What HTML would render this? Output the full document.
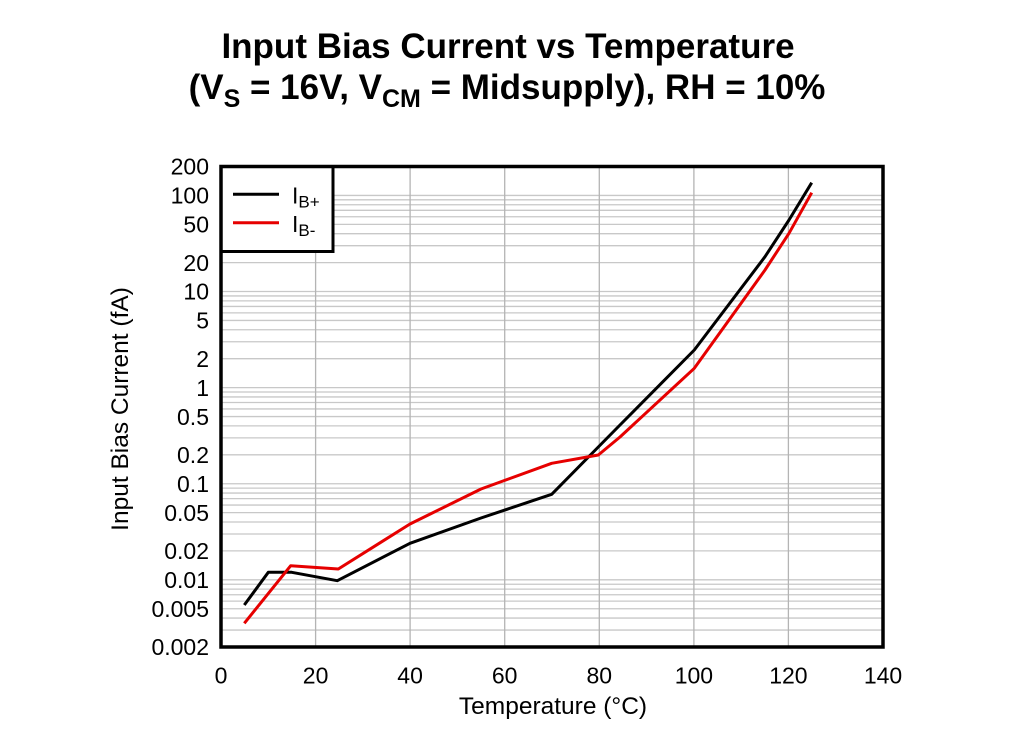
<!DOCTYPE html>
<html>
<head>
<meta charset="utf-8">
<style>
  html, body { margin:0; padding:0; background:#fff; }
  body { width:1027px; height:746px; overflow:hidden; }
  svg { display:block; }
  text { font-family: "Liberation Sans", Arial, sans-serif; fill:#000; }
</style>
</head>
<body>
<svg width="1027" height="746" viewBox="0 0 1027 746" xmlns="http://www.w3.org/2000/svg">
  <rect x="0" y="0" width="1027" height="746" fill="#fff"/>

  <text x="508" y="58" font-size="35" font-weight="bold" text-anchor="middle">Input Bias Current vs Temperature</text>
  <text x="507" y="99" font-size="35" font-weight="bold" text-anchor="middle">(V<tspan font-size="25" dy="8">S</tspan><tspan dy="-8"> = 16V, V</tspan><tspan font-size="25" dy="8">CM</tspan><tspan dy="-8"> = Midsupply), RH = 10%</tspan></text>

  <g stroke="#c8c8c8" stroke-width="1.3">
    <line x1="221" x2="883" y1="630.08" y2="630.08"/>
    <line x1="221" x2="883" y1="618.07" y2="618.07"/>
    <line x1="221" x2="883" y1="608.76" y2="608.76"/>
    <line x1="221" x2="883" y1="601.15" y2="601.15"/>
    <line x1="221" x2="883" y1="594.72" y2="594.72"/>
    <line x1="221" x2="883" y1="589.14" y2="589.14"/>
    <line x1="221" x2="883" y1="584.23" y2="584.23"/>
    <line x1="221" x2="883" y1="579.83" y2="579.83"/>
    <line x1="221" x2="883" y1="550.90" y2="550.90"/>
    <line x1="221" x2="883" y1="533.98" y2="533.98"/>
    <line x1="221" x2="883" y1="521.97" y2="521.97"/>
    <line x1="221" x2="883" y1="512.66" y2="512.66"/>
    <line x1="221" x2="883" y1="505.05" y2="505.05"/>
    <line x1="221" x2="883" y1="498.62" y2="498.62"/>
    <line x1="221" x2="883" y1="493.04" y2="493.04"/>
    <line x1="221" x2="883" y1="488.13" y2="488.13"/>
    <line x1="221" x2="883" y1="483.73" y2="483.73"/>
    <line x1="221" x2="883" y1="454.80" y2="454.80"/>
    <line x1="221" x2="883" y1="437.88" y2="437.88"/>
    <line x1="221" x2="883" y1="425.87" y2="425.87"/>
    <line x1="221" x2="883" y1="416.56" y2="416.56"/>
    <line x1="221" x2="883" y1="408.95" y2="408.95"/>
    <line x1="221" x2="883" y1="402.52" y2="402.52"/>
    <line x1="221" x2="883" y1="396.94" y2="396.94"/>
    <line x1="221" x2="883" y1="392.03" y2="392.03"/>
    <line x1="221" x2="883" y1="387.63" y2="387.63"/>
    <line x1="221" x2="883" y1="358.70" y2="358.70"/>
    <line x1="221" x2="883" y1="341.78" y2="341.78"/>
    <line x1="221" x2="883" y1="329.77" y2="329.77"/>
    <line x1="221" x2="883" y1="320.46" y2="320.46"/>
    <line x1="221" x2="883" y1="312.85" y2="312.85"/>
    <line x1="221" x2="883" y1="306.42" y2="306.42"/>
    <line x1="221" x2="883" y1="300.84" y2="300.84"/>
    <line x1="221" x2="883" y1="295.93" y2="295.93"/>
    <line x1="221" x2="883" y1="291.53" y2="291.53"/>
    <line x1="221" x2="883" y1="262.60" y2="262.60"/>
    <line x1="221" x2="883" y1="245.68" y2="245.68"/>
    <line x1="221" x2="883" y1="233.67" y2="233.67"/>
    <line x1="221" x2="883" y1="224.36" y2="224.36"/>
    <line x1="221" x2="883" y1="216.75" y2="216.75"/>
    <line x1="221" x2="883" y1="210.32" y2="210.32"/>
    <line x1="221" x2="883" y1="204.74" y2="204.74"/>
    <line x1="221" x2="883" y1="199.83" y2="199.83"/>
    <line x1="221" x2="883" y1="195.43" y2="195.43"/>
  </g>
  <g stroke="#b4b4b4" stroke-width="1.3">
    <line x1="315.6" x2="315.6" y1="166.5" y2="647"/>
    <line x1="410.1" x2="410.1" y1="166.5" y2="647"/>
    <line x1="504.7" x2="504.7" y1="166.5" y2="647"/>
    <line x1="599.3" x2="599.3" y1="166.5" y2="647"/>
    <line x1="693.9" x2="693.9" y1="166.5" y2="647"/>
    <line x1="788.4" x2="788.4" y1="166.5" y2="647"/>
  </g>

  <polyline fill="none" stroke="#000" stroke-width="3" stroke-linejoin="round"
    points="244.3,605 268.3,572.3 291.7,572.3 337.3,580.7 410,543.3 481,518 551.7,494.3 598.3,447 620,425 694.3,350 765,256.7 789,220 811.7,182.7"/>
  <polyline fill="none" stroke="#e60000" stroke-width="3" stroke-linejoin="round"
    points="244.3,623.3 290.7,565.7 338.3,569 410,524 481,489 551.7,463.3 598.3,455 620,437 694.3,368.3 765,270 789,233.3 811.7,192.7"/>

  <rect x="221" y="166.5" width="112" height="85" fill="#fff" stroke="#000" stroke-width="3"/>
  <line x1="233" x2="279" y1="194.3" y2="194.3" stroke="#000" stroke-width="3"/>
  <line x1="233" x2="279" y1="222.7" y2="222.7" stroke="#e60000" stroke-width="3"/>
  <text x="292" y="203.5" font-size="23">I<tspan font-size="17" dy="4">B+</tspan></text>
  <text x="292" y="232" font-size="23">I<tspan font-size="17" dy="4">B-</tspan></text>

  <rect x="221" y="166.5" width="662" height="480.5" fill="none" stroke="#000" stroke-width="3.5"/>

  <g font-size="23" text-anchor="end">
    <text x="209" y="174.7">200</text>
    <text x="209" y="203.6">100</text>
    <text x="209" y="232.6">50</text>
    <text x="209" y="270.8">20</text>
    <text x="209" y="299.7">10</text>
    <text x="209" y="328.7">5</text>
    <text x="209" y="366.9">2</text>
    <text x="209" y="395.8">1</text>
    <text x="209" y="424.8">0.5</text>
    <text x="209" y="463">0.2</text>
    <text x="209" y="491.9">0.1</text>
    <text x="209" y="520.9">0.05</text>
    <text x="209" y="559.1">0.02</text>
    <text x="209" y="588">0.01</text>
    <text x="209" y="617">0.005</text>
    <text x="209" y="655.2">0.002</text>
  </g>

  <g font-size="23" text-anchor="middle">
    <text x="221" y="683.5">0</text>
    <text x="315.6" y="683.5">20</text>
    <text x="410.1" y="683.5">40</text>
    <text x="504.7" y="683.5">60</text>
    <text x="599.3" y="683.5">80</text>
    <text x="693.9" y="683.5">100</text>
    <text x="788.4" y="683.5">120</text>
    <text x="883" y="683.5">140</text>
  </g>

  <text x="553" y="714" font-size="24.5" text-anchor="middle">Temperature (°C)</text>
  <text x="0" y="0" font-size="24.5" text-anchor="middle" transform="translate(128,409) rotate(-90)">Input Bias Current (fA)</text>
</svg>
</body>
</html>
